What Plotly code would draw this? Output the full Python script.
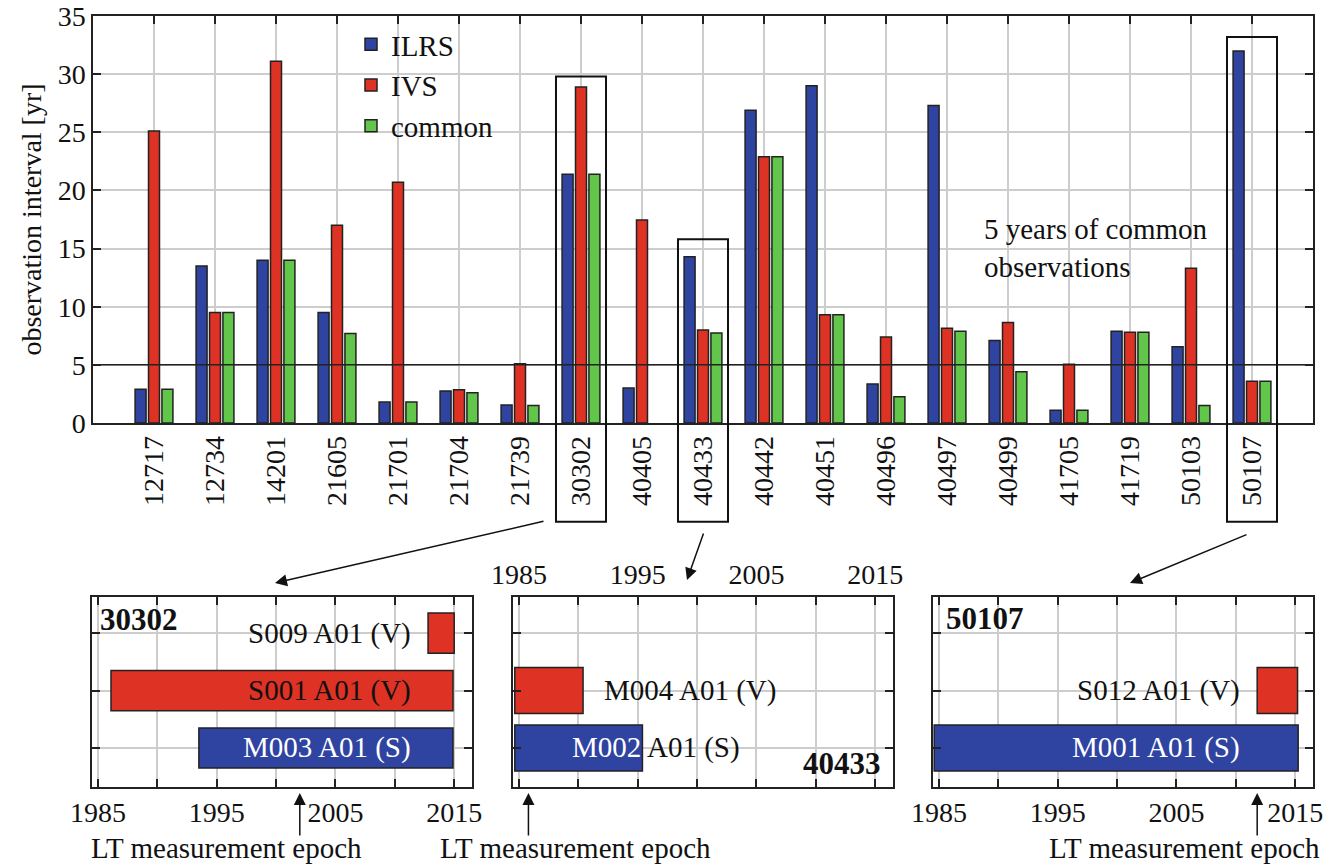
import plotly.graph_objects as go

W, H = 1342, 866

# ---------------- data ----------------
stations = ["12717", "12734", "14201", "21605", "21701", "21704", "21739", "30302",
            "40405", "40433", "40442", "40451", "40496", "40497", "40499", "41705",
            "41719", "50103", "50107"]
ilrs = [2.9, 13.5, 14.0, 9.5, 1.8, 2.75, 1.55, 21.4, 3.0, 14.3, 26.9, 29.0, 3.35,
        27.3, 7.1, 1.1, 7.9, 6.55, 32.0]
ivs = [25.1, 9.5, 31.1, 17.0, 20.7, 2.85, 5.1, 28.9, 17.45, 8.0, 22.9, 9.3, 7.4,
       8.15, 8.65, 5.05, 7.8, 13.3, 3.6]
common = [2.9, 9.5, 14.0, 7.7, 1.8, 2.6, 1.5, 21.4, None, 7.75, 22.9, 9.3, 2.25,
          7.9, 4.4, 1.1, 7.8, 1.5, 3.6]
threshold = 5

highlight = ["30302", "40433", "50107"]
highlight_top = [29.8, 15.8, 33.2]

# detail panels
p1_labels = ["S009 A01 (V)", "S001 A01 (V)", "M003 A01 (S)"]
p1_start = [2012.8, 1986.1, 1993.5]
p1_end = [2015.0, 2014.9, 2014.9]
p1_level = [3, 2, 1]
p1_type = ["V", "V", "S"]
p1_lt = 2002.0

p2_labels = ["M004 A01 (V)", "M002 A01 (S)"]
p2_start = [1984.65, 1984.65]
p2_end = [1990.4, 1995.4]
p2_level = [2, 1]
p2_type = ["V", "S"]
p2_lt = 1985.8

p3_labels = ["S012 A01 (V)", "M001 A01 (S)"]
p3_start = [2011.8, 1984.6]
p3_end = [2015.2, 2015.25]
p3_level = [2, 1]
p3_type = ["V", "S"]
p3_lt = 2011.8

year_ticks = [1985, 1990, 1995, 2000, 2005, 2010, 2015]
year_text = ["1985", "", "1995", "", "2005", "", "2015"]

# ---------------- style ----------------
BLUE = "#2f43a1"
RED = "#dd3224"
GREEN = "#62c64b"
EDGE = "#222222"
GRID = "#cdcdcd"
FONT = "Liberation Serif, Times New Roman, Times, serif"
FS = 28
FA = 29
type_color = {"V": RED, "S": BLUE}


def px(x):
    return x / W


def py(y):
    return 1 - y / H


main_xd = [px(93), px(1313)]
main_yd = [py(423), py(16)]
main_xr = [-1, 19]
main_yr = [0, 35]
sub_yd = [py(787), py(597)]
sub_xds = [[px(92), px(472)], [px(513), px(893)], [px(933), px(1313)]]
sub_xr = [1984.5, 2016.5]
sub_yr = [0.32, 3.63]


def main_to_paper(xv, yv):
    xp = main_xd[0] + (xv - main_xr[0]) / (main_xr[1] - main_xr[0]) * (main_xd[1] - main_xd[0])
    yp = main_yd[0] + (yv - main_yr[0]) / (main_yr[1] - main_yr[0]) * (main_yd[1] - main_yd[0])
    return xp, yp


fig = go.Figure()

for name, vals, col in [("ILRS", ilrs, BLUE), ("IVS", ivs, RED), ("common", common, GREEN)]:
    fig.add_trace(go.Bar(x=stations, y=vals, name=name,
                         marker=dict(color=col, line=dict(color=EDGE, width=1.5)),
                         xaxis="x", yaxis="y"))

panels = [
    (p1_labels, p1_start, p1_end, p1_level, p1_type, 0.7),
    (p2_labels, p2_start, p2_end, p2_level, p2_type, 0.8),
    (p3_labels, p3_start, p3_end, p3_level, p3_type, 0.8),
]
for k, (labs, st, en, lv, tp, wd) in enumerate(panels):
    fig.add_trace(go.Bar(
        y=lv, x=[e - s for s, e in zip(st, en)], base=st, orientation="h",
        width=wd, showlegend=False, hoverinfo="skip",
        marker=dict(color=[type_color[t] for t in tp], line=dict(color=EDGE, width=1.5)),
        xaxis="x%d" % (k + 2), yaxis="y%d" % (k + 2)))

axis_common = dict(showline=True, linecolor=EDGE, linewidth=1.5, mirror="ticks",
                   ticks="inside", ticklen=8, tickwidth=1.5, tickcolor=EDGE,
                   gridcolor=GRID, gridwidth=1.5, zeroline=False, automargin=False,
                   tickfont=dict(family=FONT, size=FS, color="#111"))

layout = dict(
    width=W, height=H, margin=dict(l=0, r=0, t=0, b=0, autoexpand=False),
    paper_bgcolor="white", plot_bgcolor="white",
    barmode="group", bargap=0.34, bargroupgap=0.18,
    font=dict(family=FONT, size=FS, color="#111"),
    showlegend=True,
    legend=dict(x=px(351), y=py(19), xanchor="left", yanchor="top",
                bgcolor="rgba(0,0,0,0)", font=dict(family=FONT, size=FA),
                tracegroupgap=0),
    xaxis=dict(axis_common, domain=main_xd, range=main_xr, type="category",
               tickangle=-90, layer="below traces", anchor="y"),
    yaxis=dict(axis_common, domain=main_yd, range=main_yr, tickvals=list(range(0, 36, 5)),
               anchor="x",
               title=dict(text="observation interval [yr]", font=dict(family=FONT, size=FS),
                          standoff=8)),
)
for k in range(3):
    n = k + 2
    layout["xaxis%d" % n] = dict(axis_common, domain=sub_xds[k], range=sub_xr,
                                 tickvals=year_ticks, ticktext=year_text,
                                 side="top" if k == 1 else "bottom",
                                 anchor="y%d" % n)
    layout["yaxis%d" % n] = dict(axis_common, domain=sub_yd, range=sub_yr,
                                 tickvals=[1, 2, 3], showticklabels=False,
                                 anchor="x%d" % n)
fig.update_layout(**layout)

# threshold line
fig.add_shape(type="line", xref="paper", yref="y", x0=main_xd[0], x1=main_xd[1],
              y0=threshold, y1=threshold, line=dict(color=EDGE, width=1.5))

# highlight boxes
for st, top in zip(highlight, highlight_top):
    i = stations.index(st)
    x0, y1 = main_to_paper(i - 0.41, top)
    x1, y0 = main_to_paper(i + 0.41, -8.5)
    fig.add_shape(type="rect", xref="paper", yref="paper", x0=x0, x1=x1, y0=y0, y1=y1,
                  line=dict(color="#111", width=2))

fig.add_annotation(x=px(982), y=py(248), xref="paper", yref="paper", xanchor="left",
                   yanchor="middle", align="left", showarrow=False,
                   text="5 years of common<br>observations", font=dict(family=FONT, size=FA))

# pointer arrows from boxes to panels
for tip, tail in [((275, 583), (545, 521)), ((687, 580), (704, 532)), ((1130, 583), (1248, 534))]:
    fig.add_annotation(x=px(tip[0]), y=py(tip[1]), xref="paper", yref="paper",
                       ax=tail[0] - tip[0], ay=tail[1] - tip[1], text="",
                       showarrow=True, arrowhead=2, arrowsize=1.6, arrowwidth=1.5,
                       arrowcolor="#111")

# panel labels
text_pos = [
    ("x2", "y2", 2011.5, 3, "right", "S009 A01 (V)", "#111"),
    ("x2", "y2", 2011.5, 2, "right", "S001 A01 (V)", "#111"),
    ("x2", "y2", 2011.5, 1, "right", "M003 A01 (S)", "white"),
    ("x3", "y3", 1992.0, 2, "left", "M004 A01 (V)", "#111"),
    ("x3", "y3", 1989.3, 1, "left", "<span style='color:white'>M002</span> A01 (S)", "#111"),
    ("x4", "y4", 2010.55, 2, "right", "S012 A01 (V)", "#111"),
    ("x4", "y4", 2010.55, 1, "right", "M001 A01 (S)", "white"),
]
for xr, yr, xv, yv, anc, txt, col in text_pos:
    fig.add_annotation(x=xv, y=yv, xref=xr, yref=yr, xanchor=anc, yanchor="middle",
                       text=txt, showarrow=False, font=dict(family=FONT, size=FA, color=col))

for xr, yr, xv, yv, anc, txt in [("x2 domain", "y2 domain", 0.016, 0.884, "left", "30302"),
                                 ("x3 domain", "y3 domain", 0.974, 0.126, "right", "40433"),
                                 ("x4 domain", "y4 domain", 0.029, 0.889, "left", "50107")]:
    fig.add_annotation(x=xv, y=yv, xref=xr, yref=yr, xanchor=anc, yanchor="middle",
                       text="<b>%s</b>" % txt, showarrow=False,
                       font=dict(family=FONT, size=31, color="#111"))

# LT measurement epoch arrows
for k, (lt, cx) in enumerate([(p1_lt, 226), (p2_lt, 575), (p3_lt, 1184)]):
    fig.add_annotation(x=lt, y=py(793), xref="x%d" % (k + 2), yref="paper",
                       ax=0, ay=44, text="", showarrow=True, arrowhead=2,
                       arrowsize=1.6, arrowwidth=1.5, arrowcolor="#111")
    fig.add_annotation(x=px(cx), y=py(848), xref="paper", yref="paper", xanchor="center",
                       yanchor="middle", text="LT measurement epoch", showarrow=False,
                       font=dict(family=FONT, size=FA))

fig.write_html("out.html", config={"displayModeBar": False},
               post_script="document.body.style.margin='0';document.body.style.overflow='hidden';")
